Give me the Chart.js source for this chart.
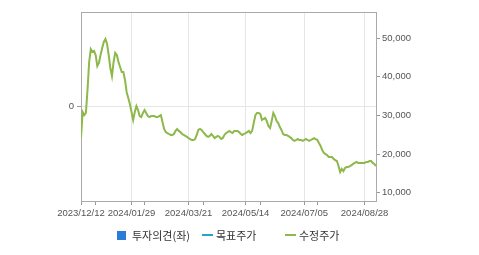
<!DOCTYPE html>
<html><head><meta charset="utf-8">
<script src="https://cdn.jsdelivr.net/npm/chart.js@4.4.0/dist/chart.umd.min.js"></script>
<style>
html,body{margin:0;padding:0;background:#fff;}
#wrap{position:relative;width:479px;height:255px;overflow:hidden;background:#fff;}
canvas{position:absolute;left:0;top:0;}
.lg{position:absolute;top:228px;font-size:11px;font-family:"Noto Sans CJK KR","Noto Sans",sans-serif;color:#333;line-height:14px;white-space:nowrap;}
.sw{position:absolute;}
</style></head><body>
<div id="wrap"><canvas id="c" width="479" height="255"></canvas><div id="legend"></div></div>
<script>
// x-axis tick labels and their trading-day positions
const tickDates = ['2023/12/12','2024/01/29','2024/03/21','2024/05/14','2024/07/05','2024/08/28'];
const tickIndex = [0,31,66,101,137,174];
const minorTickIndex = [9,39,75,110,145];
// right axis (price) ticks
const priceTicks = [10000,20000,30000,40000,50000];
// left axis (investment opinion) ticks
const opinionTicks = [0];
// 수정주가 (adjusted price), one value per trading day
const prices = [
24150,30900,30100,30650,36600,43850,47200,46450,46700,45650,
42800,43600,45650,47500,49030,49800,48500,45650,42300,40200,
43850,46200,45650,43850,42550,41260,41260,39200,36080,34500,
32950,30900,28850,30900,32450,31400,29850,29600,30650,31400,
30650,29850,29600,29850,29850,29850,29600,29600,29850,30100,
28300,26500,25720,25450,25200,24950,24950,25200,26000,26500,
26000,25700,25200,24950,24700,24450,24150,23900,23650,23650,
23900,24950,26250,26500,26250,25700,25200,24700,24450,24700,
25200,24700,24150,24450,24700,24450,23900,24150,24950,25450,
25700,26000,25700,25450,26000,26000,26000,25700,25200,24950,
25200,25450,25700,26000,25450,26000,28050,30100,30650,30650,
30400,28850,29100,29350,28550,27250,26750,28550,30650,29850,
28550,28050,27000,26250,25200,24950,24950,24700,24450,24150,
23650,23400,23650,23900,23650,23650,23400,23650,23900,23650,
23400,23650,23900,24150,23900,23650,22850,22100,21050,20300,
20000,19750,19250,19250,19250,18750,18450,18200,16900,15350,
16150,15600,16400,16650,16650,16900,17150,17450,17700,17950,
17700,17700,17700,17700,17700,17950,17950,18200,18200,17700,
17450,16900
];
const legendNames = ['투자의견(좌)','목표주가','수정주가'];
const legendColors = ['#2b7bd9','#2aa3c8','#8db84a'];

const font = {family:'"Liberation Sans", Arial, sans-serif', size:9.5};
const topBorder = {
  id:'topBorder',
  afterDraw(chart){
    const {ctx, chartArea:a} = chart;
    ctx.save();
    ctx.strokeStyle = '#aaa'; ctx.lineWidth = 1;
    ctx.beginPath();
    ctx.moveTo(a.left, Math.round(a.top)+0.5);
    ctx.lineTo(a.right, Math.round(a.top)+0.5);
    ctx.stroke();
    ctx.restore();
  }
};

new Chart(document.getElementById('c'), {
  type:'line',
  data:{
    datasets:[{
      label:legendNames[2],
      data: prices.map((v,i)=>({x:i,y:v})),
      borderColor:legendColors[2], borderWidth:2, pointRadius:0, tension:0,
      yAxisID:'y1'
    }]
  },
  options:{
    responsive:false, animation:false,
    layout:{padding:{top:12,left:0,right:0,bottom:0}},
    plugins:{legend:{display:false}, tooltip:{enabled:false}},
    scales:{
      x:{
        type:'linear', min:0, max:prices.length-1,
        afterBuildTicks: s=>{ s.ticks = tickIndex.concat(minorTickIndex).sort((a,b)=>a-b).map(v=>({value:v})); },
        afterFit: s=>{ s.height = 54; },
        grid:{
          color: c => (c.tick && tickIndex.includes(c.tick.value)) ? '#e6e6e6' : 'rgba(0,0,0,0)',
          tickColor:'#999', tickLength:4
        },
        border:{color:'#aaa'},
        ticks:{
          autoSkip:false, maxRotation:0, padding:3, color:'#555', font:font,
          callback: v => { const k = tickIndex.indexOf(v); return k>=0 ? tickDates[k] : ''; }
        }
      },
      y:{
        position:'left', min:-1, max:1,
        afterBuildTicks: s=>{ s.ticks = opinionTicks.map(v=>({value:v})); },
        afterFit: s=>{ s.width = 81; },
        grid:{color:'#e6e6e6', tickColor:'#999', tickLength:4},
        border:{color:'#aaa'},
        ticks:{color:'#555', font:font, padding:3, callback: v => String(v)}
      },
      y1:{
        position:'right', min:7850, max:56800,
        afterBuildTicks: s=>{ s.ticks = priceTicks.map(v=>({value:v})); },
        afterFit: s=>{ s.width = 103; },
        grid:{drawOnChartArea:false, tickColor:'#999', tickLength:4},
        border:{color:'#aaa'},
        ticks:{color:'#555', font:font, padding:2, callback: v => v.toLocaleString('en-US')}
      }
    }
  },
  plugins:[topBorder]
});

// legend
const lg = document.getElementById('legend');
const items = [
  {kind:'box', sx:117, tx:132},
  {kind:'line', sx:202, tx:216},
  {kind:'line', sx:285, tx:299}
];
items.forEach((it,i)=>{
  const sw = document.createElement('div');
  sw.className = 'sw';
  sw.style.left = it.sx+'px';
  sw.style.background = legendColors[i];
  if(it.kind==='box'){ sw.style.top='231px'; sw.style.width='9px'; sw.style.height='9px'; }
  else { sw.style.top='234px'; sw.style.width='11px'; sw.style.height='2px'; }
  lg.appendChild(sw);
  const t = document.createElement('div');
  t.className = 'lg'; t.style.left = it.tx+'px'; t.textContent = legendNames[i];
  lg.appendChild(t);
});
</script>
</body></html>
